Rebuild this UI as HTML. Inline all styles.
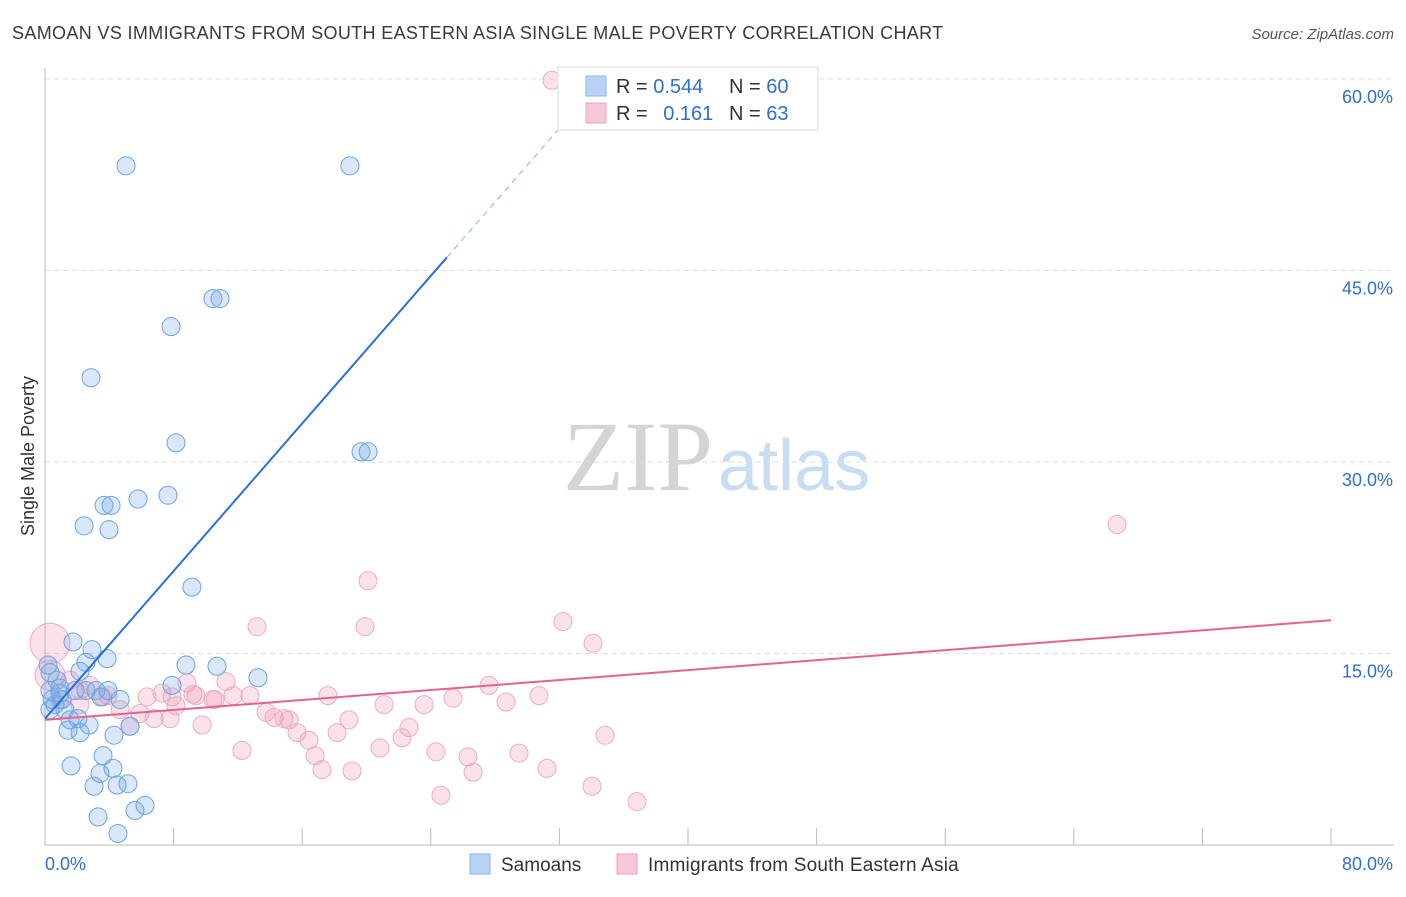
<!DOCTYPE html>
<html><head><meta charset="utf-8"><style>
body{margin:0;background:#fff;font-family:"Liberation Sans",sans-serif;}
svg text{font-family:"Liberation Sans",sans-serif;}
svg text.serif{font-family:"Liberation Serif",serif;}
</style></head><body>
<svg id="chart" width="1406" height="892">
<text x="12" y="39" font-size="18" fill="#3a3a3a" letter-spacing="0.35">SAMOAN VS IMMIGRANTS FROM SOUTH EASTERN ASIA SINGLE MALE POVERTY CORRELATION CHART</text>
<text x="1394" y="39" font-size="15" fill="#555" font-style="italic" text-anchor="end">Source: ZipAtlas.com</text>
<text class="serif" x="713" y="490" font-size="100" fill="#d4d4d4" text-anchor="end">ZIP</text>
<text x="718" y="490" font-size="72" fill="#c8dcf2">atlas</text>
<text transform="translate(34,456) rotate(-90)" font-size="18" fill="#333" text-anchor="middle">Single Male Poverty</text>
<g id="grid"></g><g id="pts"></g><g id="trend"></g>
<g>
<rect x="558" y="67" width="260" height="63" fill="#fff" stroke="#ddd"/>
<rect x="586" y="76" width="20" height="20" fill="#b8d3f5" stroke="#8ab4ea"/>
<rect x="586" y="103" width="20" height="20" fill="#f9c8d8" stroke="#eea2bc"/>
<text x="616" y="93" font-size="20" fill="#333">R = <tspan fill="#2f6fd1">0.544</tspan></text>
<text x="729" y="93" font-size="20" fill="#333">N = <tspan fill="#2f6fd1">60</tspan></text>
<text x="616" y="120" font-size="20" fill="#333">R = <tspan dx="10" fill="#2f6fd1">0.161</tspan></text>
<text x="729" y="120" font-size="20" fill="#333">N = <tspan fill="#2f6fd1">63</tspan></text>
</g>
<g>
<rect x="470" y="854" width="20" height="20" fill="#b8d3f5" stroke="#8ab4ea"/>
<text x="501" y="871" font-size="19" fill="#333">Samoans</text>
<rect x="617" y="854" width="20" height="20" fill="#f9c8d8" stroke="#eea2bc"/>
<text x="648" y="871" font-size="19" fill="#333" letter-spacing="0.2">Immigrants from South Eastern Asia</text>
</g>
</svg>
<script>
const yTicks=[15,30,45,60];
const yTickLabels=["15.0%","30.0%","45.0%","60.0%"];
const xEndLabels=["0.0%","80.0%"];
const blueX=[5.04,18.97,10.45,10.89,7.84,2.86,8.15,19.66,20.1,3.67,4.11,5.79,7.65,2.43,3.98,9.14,1.74,2.92,2.55,3.86,8.77,10.7,13.25,2.18,7.9,0.31,0.93,1.87,3.17,3.48,0.62,1.24,1.56,2.05,2.74,1.43,2.18,5.29,4.29,3.61,1.62,4.23,3.42,3.05,4.48,5.16,6.22,5.6,3.3,4.54,0.31,0.75,1.06,0.44,0.19,0.93,2.55,3.92,4.67,0.31];
const blueY=[53.2,53.2,42.8,42.8,40.6,36.6,31.5,30.8,30.8,26.6,26.6,27.1,27.4,25.0,24.7,20.2,15.9,15.3,14.3,14.6,14.1,14.0,13.1,13.6,12.5,12.1,12.3,12.1,12.1,11.6,11.0,10.6,9.8,9.9,9.4,9.0,8.8,9.3,8.6,7.0,6.2,6.0,5.6,4.6,4.7,4.8,3.1,2.7,2.2,0.9,13.5,12.9,11.4,11.4,14.1,11.9,12.1,12.1,11.4,10.6];
const pinkX=[31.54,66.69,20.09,13.19,19.91,32.22,34.09,0.31,0.31,27.62,17.6,30.73,25.38,21.09,23.58,28.68,7.9,11.26,8.83,6.35,9.21,11.7,12.75,10.45,7.28,3.92,3.61,2.8,1.56,2.18,0.93,4.67,5.91,8.15,9.39,10.58,13.75,14.25,14.87,15.18,6.78,7.78,9.77,5.29,18.91,22.64,15.68,18.17,16.42,22.21,20.84,24.32,26.31,29.49,12.25,16.8,17.23,19.1,26.63,31.23,34.03,24.63,36.83,34.84,2.18];
const pinkY=[59.9,25.1,20.7,17.1,17.1,17.5,15.8,15.8,13.3,12.5,11.7,11.7,11.5,11.0,11.0,11.2,11.6,12.8,12.7,11.6,11.8,11.7,11.7,11.4,11.9,11.7,11.6,12.5,12.9,12.1,11.4,10.6,10.3,10.9,11.7,11.4,10.4,10.0,9.9,9.8,9.9,9.9,9.4,9.3,9.8,9.2,8.8,8.8,8.2,8.4,7.6,7.3,6.9,7.2,7.4,7.0,5.9,5.8,5.7,6.0,4.6,3.9,3.4,8.6,11.0];
const pinkBig=[0,0,0,0,0,0,0,20,15];
const blueTrend=[9.9,1.445];
const pinkTrend=[9.8,0.0975];
const NS="http://www.w3.org/2000/svg";
const X0=45,X1=1331,Y0=845,Y60=79;
const sx=v=>X0+(X1-X0)*v/80, sy=v=>Y0-(Y0-Y60)*v/60;
function mk(tag,attrs,parent){const e=document.createElementNS(NS,tag);for(const k in attrs)e.setAttribute(k,attrs[k]);parent.appendChild(e);return e;}
const grid=document.getElementById('grid');
yTicks.forEach((t,i)=>{
 const l=mk('line',{x1:X0,x2:1394,y1:sy(t),y2:sy(t),stroke:'#ddd','stroke-dasharray':'5,4'},grid);
 
 
 const tx=mk('text',{x:1393,y:sy(t)+24,'font-size':18,fill:'#2f6fd1','text-anchor':'end'},grid);
 tx.textContent=yTickLabels[i];
 
 
});
const ax=mk('path',{d:`M${X0},68V${Y0}H${X1+63}`,stroke:'#bbb',fill:'none'},grid);


for(let k=0;k<=10;k++){const t=mk('line',{x1:sx(k*8),x2:sx(k*8),y1:828,y2:Y0,stroke:'#bbb'},grid);
 
 }
[[0,'start',45],[80,'end',1393]].forEach((a,i)=>{const t=mk('text',{x:a[2],y:870,'font-size':18,fill:'#2f6fd1','text-anchor':a[1]},grid);t.textContent=xEndLabels[i];
 
 });
const pts=document.getElementById('pts');
pinkX.forEach((x,i)=>{const c=mk('circle',{cx:sx(x),cy:sy(pinkY[i]),r:pinkBig[i]||9,fill:'rgba(240,150,180,0.28)',stroke:'#eeaac2','stroke-width':1},pts);
 
 });
blueX.forEach((x,i)=>{const c=mk('circle',{cx:sx(x),cy:sy(blueY[i]),r:9,fill:'rgba(120,170,230,0.28)',stroke:'#6da3e2','stroke-width':1},pts);
 
 });
const tr=document.getElementById('trend');
const bt=mk('line',{x1:sx(0),y1:sy(blueTrend[0]),x2:sx(25),y2:sy(blueTrend[0]+25*blueTrend[1]),stroke:'#2a6fd6','stroke-width':2},tr);


const xe=(60-blueTrend[0])/blueTrend[1];
const bd=mk('line',{x1:sx(25),y1:sy(blueTrend[0]+25*blueTrend[1]),x2:sx(xe),y2:sy(60),stroke:'#8ab0e0','stroke-width':1,'stroke-dasharray':'6,5'},tr);


const pt=mk('line',{x1:sx(0),y1:sy(pinkTrend[0]),x2:sx(80),y2:sy(pinkTrend[0]+80*pinkTrend[1]),stroke:'#e6628e','stroke-width':2},tr);


</script>
</body></html>
